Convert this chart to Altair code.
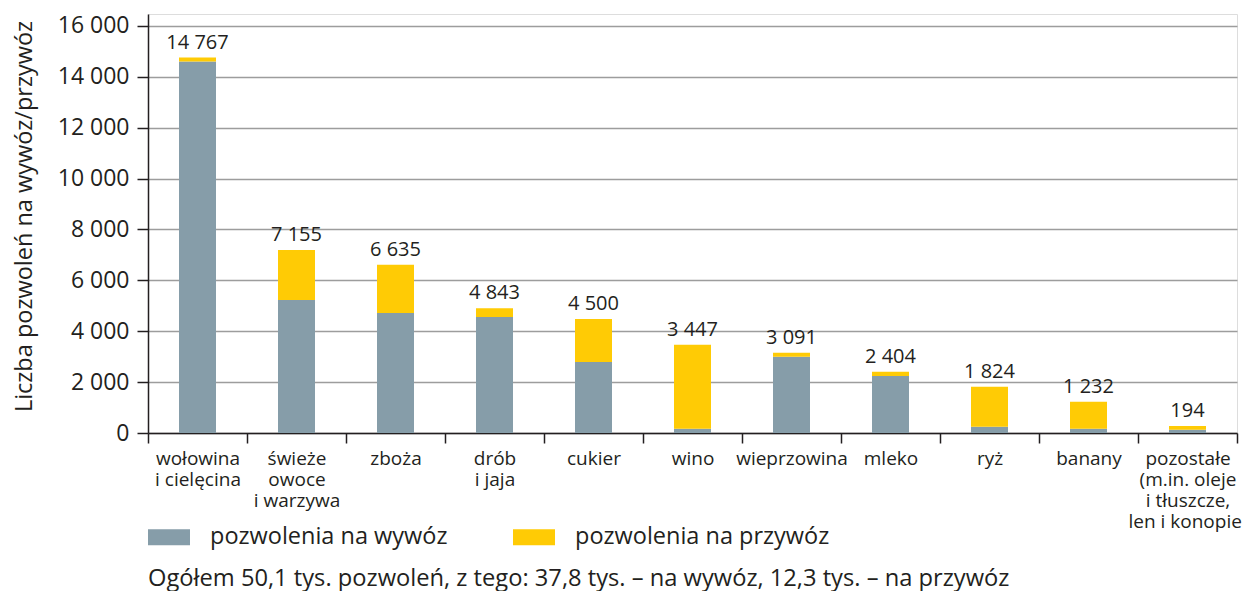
import altair as alt
import pandas as pd

categories = [
    "wołowina|i cielęcina",
    "świeże|owoce|i warzywa",
    "zboża",
    "drób|i jaja",
    "cukier",
    "wino",
    "wieprzowina",
    "mleko",
    "ryż",
    "banany",
    "pozostałe|(m.in. oleje|i tłuszcze,|len i konopie)",
]
export_vals = [14600, 5230, 4720, 4560, 2790, 170, 3000, 2240, 250, 170, 130]
import_vals = [160, 1960, 1890, 340, 1690, 3300, 150, 165, 1570, 1060, 150]
total_labels = ["14 767", "7 155", "6 635", "4 843", "4 500", "3 447",
                "3 091", "2 404", "1 824", "1 232", "194"]
series = ["pozwolenia na wywóz", "pozwolenia na przywóz"]
colors = ["#869DA9", "#FFCB05"]
y_ticks = [0, 2000, 4000, 6000, 8000, 10000, 12000, 14000, 16000]
footnote = "Ogółem 50,1 tys. pozwoleń, z tego: 37,8 tys. – na wywóz, 12,3 tys. – na przywóz"
y_title = "Liczba pozwoleń na wywóz/przywóz"

rows = []
for i, c in enumerate(categories):
    rows.append({"category": c, "series": series[0], "value": export_vals[i], "ord": 0})
    rows.append({"category": c, "series": series[1], "value": import_vals[i], "ord": 1})
df = pd.DataFrame(rows)

lab = pd.DataFrame({
    "category": categories,
    "top": [e + m for e, m in zip(export_vals, import_vals)],
    "label": total_labels,
})

FONT = "Open Sans"
TXT = "#231f20"

x_enc = alt.X(
    "category:N",
    sort=categories,
    scale=alt.Scale(paddingInner=0, paddingOuter=0),
    axis=alt.Axis(
        title=None,
        labelAngle=0,
        labelExpr="split(datum.label, '|')",
        labelFont=FONT,
        labelFontSize=19,
        labelLineHeight=21,
        labelBaseline="alphabetic",
        labelPadding=21,
        labelColor=TXT,
        tickBand="extent",
        tickSize=10,
        tickColor=TXT,
        tickWidth=1.5,
        domainColor=TXT,
        domainWidth=1.5,
        grid=False,
        labelOverlap=False,
    ),
)

y_scale = alt.Scale(domain=[0, 16470], nice=False)

bars = alt.Chart(df).mark_bar(size=37).encode(
    x=x_enc,
    y=alt.Y(
        "value:Q",
        stack="zero",
        scale=y_scale,
        axis=alt.Axis(
            values=y_ticks,
            labelExpr="replace(format(datum.value, ','), ',', ' ')",
            title=y_title,
            titleFont=FONT,
            titleFontSize=23.5,
            titleFontWeight="normal",
            titleColor=TXT,
            titlePadding=21,
            titleY=202,
            labelFont=FONT,
            labelFontSize=23,
            labelColor=TXT,
            labelPadding=8,
            tickSize=11,
            tickColor=TXT,
            tickWidth=1.5,
            domainColor=TXT,
            domainWidth=1.5,
            grid=True,
            gridColor="#9d9d9d",
            gridWidth=1.5,
        ),
    ),
    color=alt.Color(
        "series:N",
        scale=alt.Scale(domain=series, range=colors),
        sort=series,
        legend=alt.Legend(
            orient="none",
            legendX=0,
            legendY=502,
            direction="horizontal",
            symbolType="M-1,-0.381L1,-0.381L1,0.381L-1,0.381Z",
            symbolSize=1764,
            symbolStrokeWidth=0,
            symbolOpacity=1,
            labelFont=FONT,
            labelFontSize=23.5,
            labelColor=TXT,
            labelOffset=20,
            labelLimit=400,
            columnPadding=65,
            title=footnote,
            titleOrient="bottom",
            titleAnchor="start",
            titleFont=FONT,
            titleFontSize=23.7,
            titleFontWeight="normal",
            titleColor=TXT,
            titlePadding=18,
            titleLimit=1200,
        ),
    ),
    order=alt.Order("ord:Q", sort="ascending"),
)

texts = alt.Chart(lab).mark_text(
    baseline="alphabetic", dy=-9, fontSize=20, font=FONT, color=TXT
).encode(
    x=alt.X("category:N", sort=categories),
    y=alt.Y("top:Q", scale=y_scale),
    text="label:N",
)

chart = alt.layer(bars, texts).properties(
    width=1089,
    height=419,
    autosize=alt.AutoSizeParams(type="none"),
    padding={"left": 140, "top": 6, "right": 5, "bottom": 170},
).configure_view(stroke=None).configure(background="white")

chart.save("out.html", embed_options={"renderer": "svg", "actions": False})
